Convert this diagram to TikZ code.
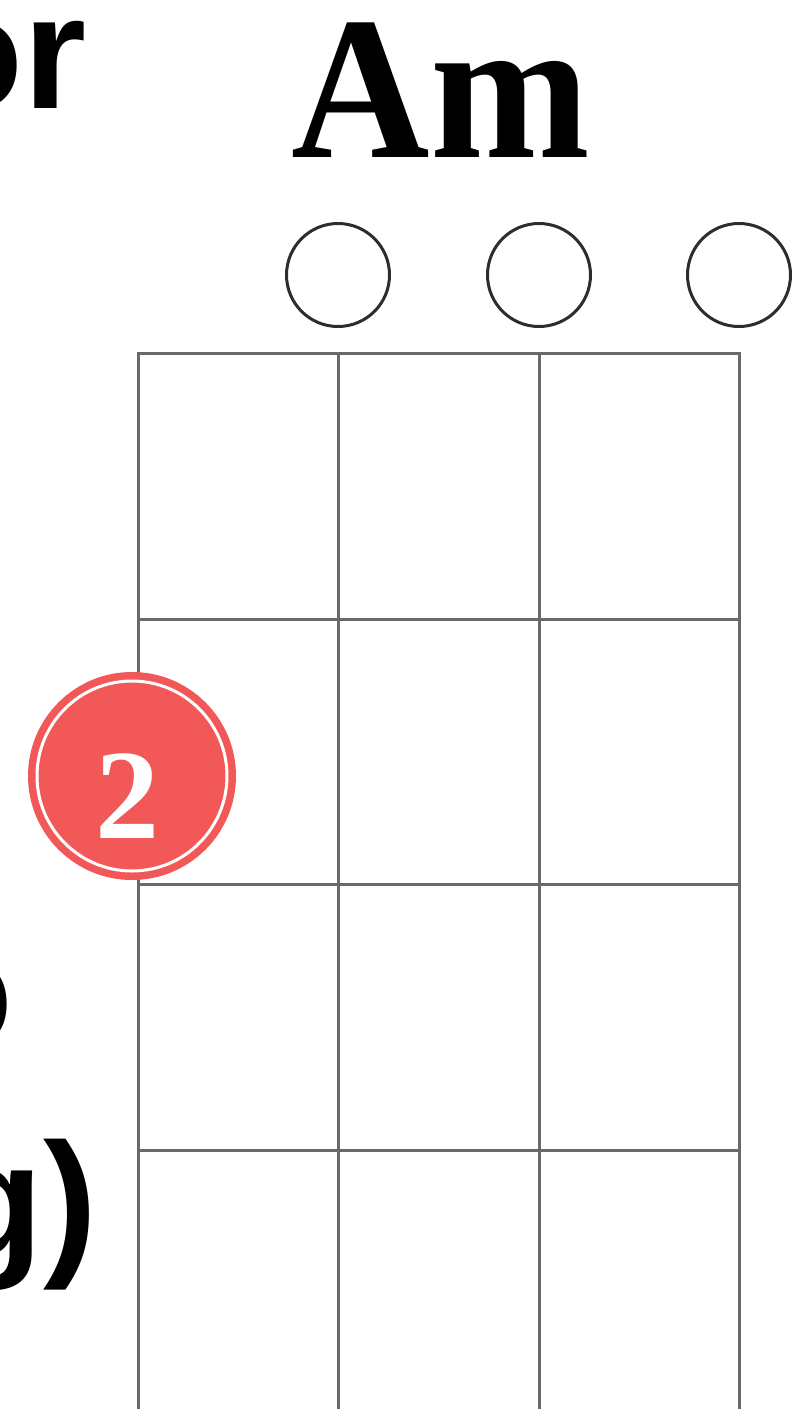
\documentclass[tikz,border=0pt]{standalone}
\usepackage{fontspec}
\setmainfont{Liberation Serif}
\newfontfamily\cutsans{Liberation Sans}[BoldFont={* Bold}]
\usetikzlibrary{positioning}
\definecolor{fretgray}{RGB}{105,105,105}
\definecolor{ringdark}{RGB}{45,45,45}
\definecolor{fingerred}{RGB}{243,88,88}

\begin{document}
\begin{tikzpicture}[x=1pt,y=-1pt,
  fretline/.style={draw=fretgray,line width=3pt,line cap=rect},
  opencirc/.style={circle,draw=ringdark,line width=3pt,minimum size=103pt,inner sep=0pt},
  fingerdot/.style={circle,fill=fingerred,minimum size=208pt,inner sep=0pt},
  cuttext/.style={font=\fontsize{162}{162}\cutsans\bfseries,inner sep=0pt,anchor=base east}]
\clip (0,0) rectangle (795,1409);
% cut-off title text on the left
\node[cuttext] (titleor) at (87,108) {or};
\node[cuttext] (titleo) at (14,1047) {o};
\node[cuttext] (titleg) at (98,1256) {g)};
% chord name
\node[font=\bfseries\fontsize{204}{204}\selectfont,inner sep=0pt,anchor=base,xscale=0.94] (chord) at (441,157) {Am};
% open strings
\foreach \s/\x in {2/338,3/539,4/739}{
  \node[opencirc] (open\s) at (\x,275) {};
}
% fretboard
\foreach \x in {138,338,539,739}{
  \draw[fretline] (\x,353) -- (\x,1420);
}
\foreach \y in {353,619,884,1150}{
  \draw[fretline] (138,\y) -- (739,\y);
}
% finger
\node[fingerdot] (finger) at (132,776) {};
\draw[white,line width=3pt] (finger.center) circle (95);
\node[font=\bfseries\fontsize{128}{128}\selectfont,text=white,inner sep=0pt,anchor=base] (fingernum) at (127,838) {2};
\end{tikzpicture}
\end{document}
